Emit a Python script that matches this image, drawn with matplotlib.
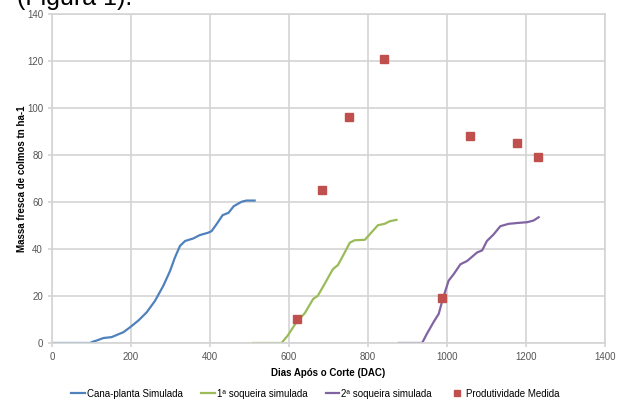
import matplotlib.pyplot as plt

plt.rcParams['font.family'] = ['Liberation Sans', 'DejaVu Sans']

# Cana-planta simulada
dias_cp = [0, 97, 101, 114, 130, 151, 168, 181, 200, 219, 240, 261, 282, 299, 311, 324,
           337, 358, 374, 395, 404, 416, 432, 447, 460, 480, 492, 513]
massa_cp = [0, 0, 0.4, 1.1, 2.1, 2.5, 3.7, 4.6, 7.0, 9.6, 13.1, 18.0, 24.4, 30.7, 36.3, 41.3,
            43.4, 44.5, 45.9, 46.9, 47.6, 50.4, 54.4, 55.4, 58.2, 60.1, 60.6, 60.6]

# 1a soqueira simulada
dias_s1 = [509, 581, 597, 619, 640, 661, 673, 690, 711, 724, 741, 754, 766, 792, 808, 825,
           842, 855, 872]
massa_s1 = [0, 0, 3.2, 8.9, 12.7, 18.7, 20.1, 25.1, 31.4, 33.2, 38.5, 42.7, 43.7, 43.9,
            46.9, 50.1, 50.7, 51.8, 52.4]

# 2a soqueira simulada
dias_s2 = [878, 937, 949, 966, 979, 987, 996, 1004, 1017, 1034, 1051, 1076, 1089, 1101,
           1118, 1135, 1156, 1181, 1203, 1219, 1232]
massa_s2 = [0, 0, 3.9, 8.9, 12.4, 17.3, 22.3, 26.5, 29.3, 33.5, 34.9, 38.5, 39.4, 43.4,
            46.2, 49.7, 50.7, 51.1, 51.4, 52.1, 53.5]

# Produtividade medida
dias_med = [621, 683, 753, 841, 987, 1057, 1177, 1231]
massa_med = [10, 65, 96, 121, 19, 88, 85, 79]

fig = plt.figure(figsize=(6.22, 3.99), dpi=100)
ax = fig.add_axes([0.0836, 0.1404, 0.8891, 0.8246])

ax.plot(dias_cp, massa_cp, color='#4F81BD', lw=1.6, label='Cana-planta Simulada')
ax.plot(dias_s1, massa_s1, color='#9BBB59', lw=1.6, label='1ª soqueira simulada')
ax.plot(dias_s2, massa_s2, color='#8064A2', lw=1.6, label='2ª soqueira simulada')
ax.plot(dias_med, massa_med, 's', color='#C0504D', ms=5.5, mec='#C0504D',
        label='Produtividade Medida')

ax.set_xlim(0, 1400)
ax.set_ylim(0, 140)
ax.set_xticks(range(0, 1401, 200))
ax.set_yticks(range(0, 141, 20))
ax.grid(True, color='#d4d4d4', lw=1.2)
ax.set_axisbelow(True)
for s in ax.spines.values():
    s.set_color('#d4d4d4')
    s.set_linewidth(1.2)
ax.tick_params(colors='#d4d4d4', labelcolor='#555555', labelsize=7, length=3, width=1.2)

ax.set_xlabel('Dias Após o Corte (DAC)', fontsize=7, fontweight='bold', labelpad=4)
ax.set_ylabel('Massa fresca de colmos tn ha-1', fontsize=7, fontweight='bold', labelpad=0)

ax.legend(loc='upper center', bbox_to_anchor=(0.476, -0.112), ncol=4, frameon=False,
          fontsize=7, handlelength=1.4, handletextpad=0.2, columnspacing=1.9,
          numpoints=1, markerscale=0.7)

fig.text(17 / 622, 0.987, '(Figura 1).', fontsize=18, va='baseline', ha='left')

fig.savefig('out.png', dpi=100)
